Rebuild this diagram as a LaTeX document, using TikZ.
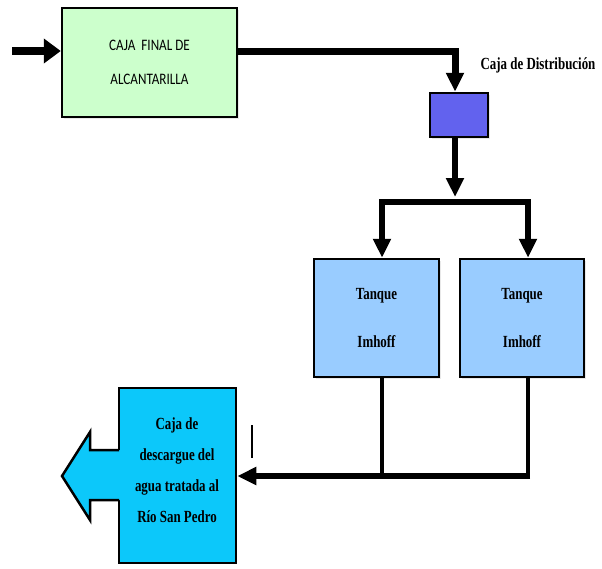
\documentclass[tikz,border=0pt]{standalone}
\usepackage{fontspec}
\usetikzlibrary{arrows.meta,positioning,shadows}

\newfontfamily\rotulo[FakeStretch=0.82]{Carlito}
\newfontfamily\serifc[FakeStretch=0.76]{Liberation Serif}

\definecolor{verdecaja}{RGB}{204,255,204}
\definecolor{azuldist}{RGB}{98,98,238}
\definecolor{azultanque}{RGB}{153,204,255}
\definecolor{celeste}{RGB}{12,200,250}

\tikzset{
  caja/.style={draw, line width=2.5pt, inner sep=0pt, align=center,
    drop shadow={shadow xshift=1.5pt, shadow yshift=-2pt, opacity=0.18}},
  texto/.style={font=\serifc\bfseries\fontsize{17}{31}\selectfont, align=center},
  flujo/.style={line width=6pt, -{Triangle[width=17pt,length=19pt]}},
  tubo/.style={line width=4pt},
}

\begin{document}
\begin{tikzpicture}[x=1pt,y=-1pt]
\useasboundingbox (0,0) rectangle (602,568);

% cajas
\node[caja, fill=verdecaja, minimum width=175pt, minimum height=109pt,
  font=\rotulo\fontsize{16}{34}\selectfont] (final) at (149.5,62.5)
  {CAJA\ \ FINAL DE\\ALCANTARILLA};
\node[caja, fill=azuldist, minimum width=58pt, minimum height=44pt] (dist) at (459,115) {};
\node[texto, font=\serifc\bfseries\fontsize{17}{20}\selectfont] (etiq) at (538,65) {Caja de Distribución};
\node[caja, texto, fill=azultanque, minimum width=125pt, minimum height=118pt,
  font=\serifc\bfseries\fontsize{17}{48}\selectfont] (tanqueA) at (376.5,318) {Tanque\\Imhoff};
\node[caja, texto, fill=azultanque, minimum width=124pt, minimum height=118pt,
  font=\serifc\bfseries\fontsize{17}{48}\selectfont] (tanqueB) at (522,318) {Tanque\\Imhoff};

% caja de descarga con su flecha
\node[draw, line width=2.5pt, fill=celeste, minimum width=117pt, minimum height=175pt] (descarga) at (177.5,475.5) {};
\fill[celeste] (121.5,450) -- (90,450) -- (90,432) -- (62,476) -- (90,520) -- (90,500) -- (121.5,500) -- cycle;
\draw[line width=2.5pt, line join=miter] (119,450) -- (90,450) -- (90,432) -- (62,476) -- (90,520) -- (90,500) -- (119,500);
\node[texto] (descargaT) at (177,470) {Caja de\\descargue del\\agua tratada al\\Río San Pedro};

% puntos de paso
\coordinate (entrada) at (12,51);
\coordinate (bajada) at ([xshift=-4pt]dist.south);
\coordinate (bifI) at (382,202);
\coordinate (bifD) at (528,202);
\coordinate (colector) at (528,476);

% conexiones
\draw[line width=8pt, -{Triangle[width=24pt,length=17pt]}] (entrada) -- (entrada -| final.west);
\draw[flujo, line width=7pt] (final.east |- entrada) -| ([xshift=-4pt]dist.north);
\draw[flujo] (bajada) -- ([yshift=5pt]bajada |- bifI);
\draw[line width=6.5pt, {Triangle[width=17pt,length=19pt]}-{Triangle[width=17pt,length=19pt]}]
  (tanqueA.north -| bifI) |- (bifD) -- (tanqueB.north -| bifD);
\draw[tubo] (tanqueA.south -| bifI) -- (bifI |- colector);
\draw[tubo] (tanqueB.south -| colector) -- (colector);
\draw[flujo] ([xshift=2pt]colector) -- (descarga.east |- colector);
\draw[line width=1.5pt] (252,425) -- (252,458);
\end{tikzpicture}
\end{document}
